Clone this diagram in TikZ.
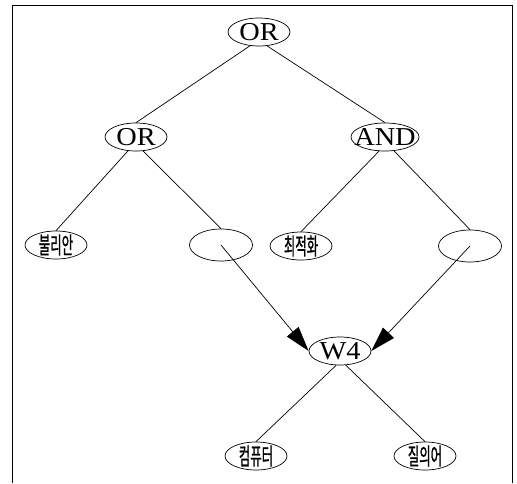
\documentclass[tikz,border=0pt]{standalone}
\usepackage{fontspec}
\setmainfont{Liberation Serif}
\newfontfamily\opfont[FakeStretch=1.1]{Liberation Serif}
\newfontfamily\kr[FakeStretch=0.53, FakeBold=0.8]{Noto Sans CJK KR}
\usetikzlibrary{shapes.geometric, arrows.meta}

\begin{document}
\begin{tikzpicture}[x=0.03cm, y=-0.03cm, line width=0.6pt,
    op/.style={ellipse, draw, inner sep=-0.2cm, minimum width=1.86cm, minimum height=0.84cm, font=\opfont\fontsize{22}{24}\selectfont},
    word/.style={ellipse, draw, inner sep=-0.1cm, minimum width=1.86cm, minimum height=0.84cm, font=\kr\fontsize{20}{22}\selectfont},
    blank/.style={ellipse, draw, inner sep=0pt, minimum width=1.89cm, minimum height=0.96cm}]
    \useasboundingbox (0,0) rectangle (517,483);
    % Frame
    \draw (12,483) -- (12,5) -- (512,5) -- (512,483);

    % Nodes
    \node[op] (root) at (259,32) {OR};
    \node[op] (or1) at (136,137) {OR};
    \node[op] (and) at (385,137) {AND};
    \node[word] (bool) at (56,245) {불리안};
    \node[blank] (e1) at (221,245) {};
    \node[word] (opt) at (301,246) {최적화};
    \node[blank] (e2) at (470,246) {};
    \node[op] (W4) at (340,351) {W4};
    \node[word] (comp) at (256,456) {컴퓨터};
    \node[word] (query) at (425,456) {질의어};

    % Edges
    \draw (root.237) -- (or1.north);
    \draw (root.300) -- (and.north);
    \draw (or1.240) -- (bool.north);
    \draw (or1.297) -- (e1.north);
    \draw (and.247) -- (opt.north);
    \draw (and.303) -- (e2.north);
    \draw (W4.255) -- (comp.north);
    \draw (W4.292) -- (query.north);
    \draw[-{Triangle[length=0.75cm, width=0.45cm]}] (e1.center) -- (W4.west);
    \draw[-{Triangle[length=0.75cm, width=0.45cm]}] (e2.center) -- (W4.east);
\end{tikzpicture}
\end{document}
